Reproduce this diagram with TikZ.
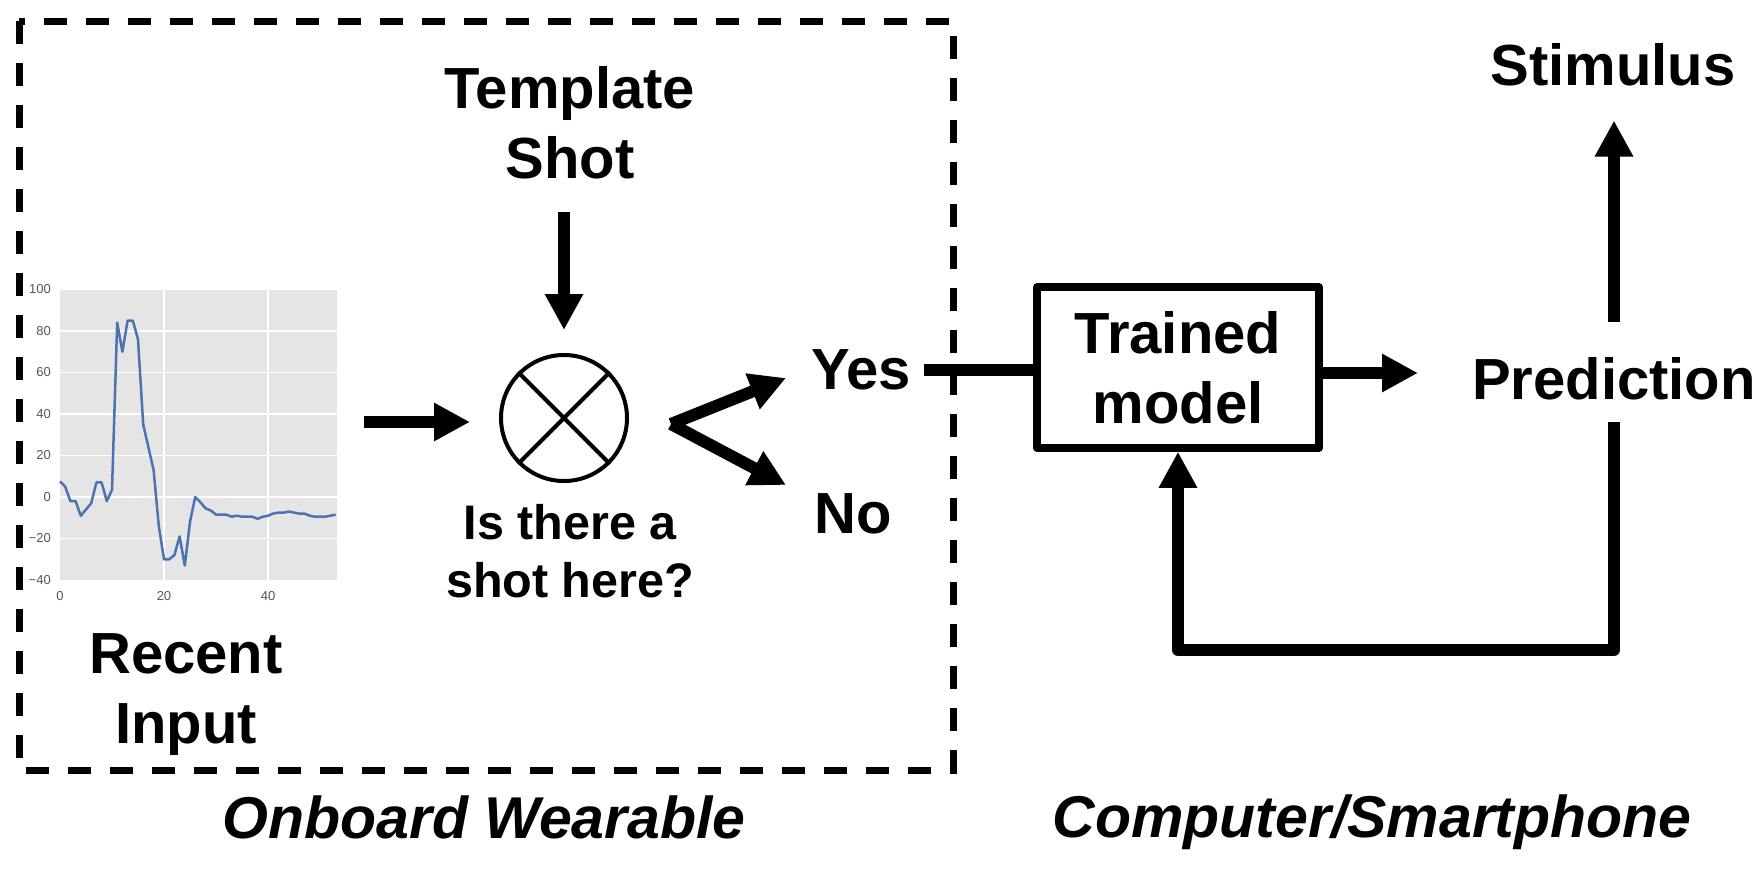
\documentclass[tikz,border=0pt]{standalone}
\usepackage{fontspec}
\setmainfont{Liberation Sans}
\usetikzlibrary{arrows.meta}

\begin{document}
\begin{tikzpicture}[x=1pt,y=-1pt,
    arr/.style={line width=12pt,-{Triangle[length=36pt,width=36pt]}},
    lbl/.style={inner sep=0pt,align=center,font=\fontsize{58}{70}\selectfont\bfseries},
    smalllbl/.style={inner sep=0pt,align=center,font=\fontsize{48.5}{58}\selectfont\bfseries},
    sidelbl/.style={inner sep=0pt,font=\fontsize{59}{70}\selectfont\bfseries\itshape},
    ticklbl/.style={inner sep=0pt,text=tickgray,font=\fontsize{13}{15}\selectfont},
]
  \definecolor{chartblue}{HTML}{4C72B0}
  \definecolor{chartbg}{HTML}{E5E5E5}
  \definecolor{tickgray}{HTML}{555555}

  \useasboundingbox (0,0) rectangle (1764,868);

%%%%%%%%%%%%%%%% onboard part

  \draw[line width=7pt,dash pattern=on 23pt off 19pt] (19,21) rectangle (953,770);

  %% recent input chart
  \begin{scope}[shift={(60,497)},x=5.2pt,y=2.075pt]
    \fill[chartbg] (0,-40) rectangle (53.3,100);
    \foreach \v in {-20,0,...,80}
      \draw[white,line width=1.5pt] (0,\v) -- (53.3,\v);
    \foreach \v in {20,40}
      \draw[white,line width=1.5pt] (\v,-40) -- (\v,100);
    \foreach \v/\t in {100/100,80/80,60/60,40/40,20/20,0/0,-20/−20,-40/−40}
      \node[ticklbl,anchor=east,xshift=-9pt] at (0,\v) {\t};
    \foreach \v in {0,20,40}
      \node[ticklbl,anchor=north,yshift=-11pt] at (\v,-40) {\v};
    \draw[chartblue,line width=2.5pt,line join=round] plot coordinates {
      (0,7.5) (1,5) (2,-2) (3,-2) (4,-9) (5,-6) (6,-3) (7,7) (8,7) (9,-2)
      (10,3.5) (11,84) (12,70) (13,85) (14,85) (15,76) (16,35) (17,24) (18,13) (19,-14)
      (20,-30) (21,-30) (22,-28) (23,-19) (24,-33) (25,-12) (26,0) (27,-2.5) (28,-5.5) (29,-6.5)
      (30,-8.5) (31,-8.5) (32,-8.5) (33,-9.5) (34,-9) (35,-9.5) (36,-9.5) (37,-9.5) (38,-10.5) (39,-9.5)
      (40,-9) (41,-8) (42,-7.5) (43,-7.5) (44,-7) (45,-7.5) (46,-8) (47,-8) (48,-9) (49,-9.5)
      (50,-9.5) (51,-9.5) (52,-9) (53,-8.5)};
  \end{scope}

  \node[lbl] (recent) at (186,695) {Recent\\Input};
  \node[lbl] (template) at (570,122.5) {Template\\Shot};
  \node[circle,draw,line width=4pt,minimum size=126pt] (xor) at (564,418) {};
  \draw[line width=4pt] (xor.north west) -- (xor.south east);
  \draw[line width=4pt] (xor.north east) -- (xor.south west);
  \node[smalllbl] (question) at (570,551) {Is there a\\shot here?};

  \coordinate (chartout) at (364,422);
  \draw[arr,shorten >=29pt] (chartout) -- (chartout -| xor.west);
  \draw[arr,shorten <=33pt,shorten >=23pt] (template.south -| xor.north) -- (xor.north);

  %% yes / no
  \node[lbl] (yes) at (861,369.5) {Yes};
  \node[lbl] (no) at (853,513.5) {No};
  \coordinate (fork) at (671,424);
  \coordinate (yestip) at (786,378);
  \coordinate (notip) at (786,485);
  \draw[arr] (fork) -- (yestip);
  \draw[arr] (fork) -- (notip);

%%%%%%%%%%%%%%%% computer part

  \node[draw,line width=7.5pt,line join=round,minimum width=282pt,minimum height=161pt,lbl] (model) at (1178,367.5) {Trained\\model};
  \node[lbl] (pred) at (1614,378.5) {Prediction};
  \node[lbl] (stim) at (1613,65) {Stimulus};

  \draw[line width=12pt,shorten <=13pt] (yes.east) -- (yes.east -| model.west);
  \draw[arr,shorten >=54pt] ([yshift=-5.5pt]model.east) -- ([yshift=-5.5pt]model.east -| pred.west);
  \draw[arr,shorten <=35pt,shorten >=34pt] (pred.north) -- (pred.north |- stim.south);

  %% feedback
  \coordinate (loopcorner) at (model.south |- 0,650);
  \draw[arr,line join=round,shorten <=22pt] (pred.south) |- (loopcorner) -- (model.south);

  \node[sidelbl] (wearable) at (484,817.5) {Onboard Wearable};
  \node[sidelbl] (computer) at (1372,822.5) {Computer/Smartphone};

\end{tikzpicture}
\end{document}
